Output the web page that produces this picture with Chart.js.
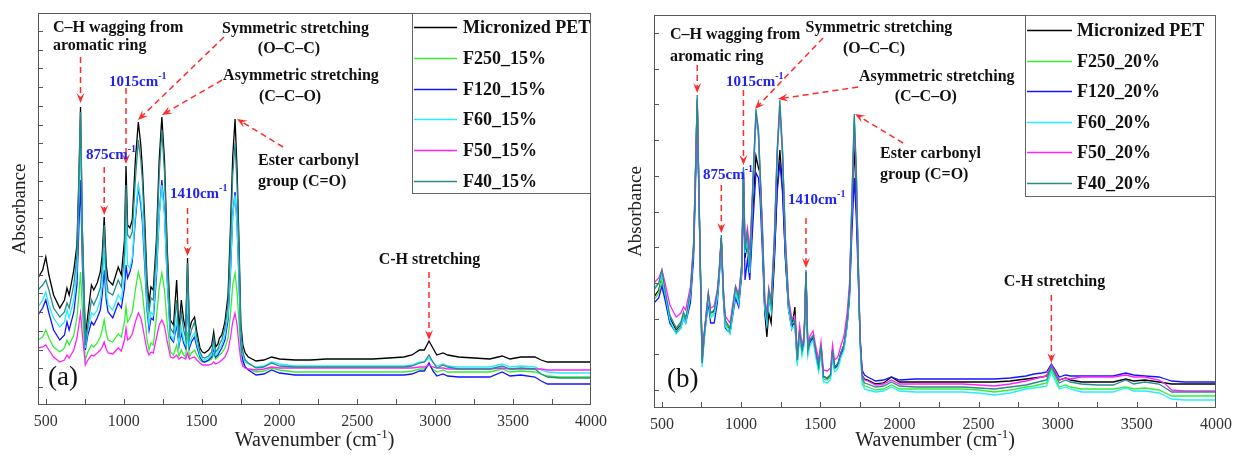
<!DOCTYPE html>
<html>
<head>
<meta charset="utf-8">
<script src="https://cdn.jsdelivr.net/npm/chart.js@4.4.1/dist/chart.umd.min.js"></script>
<style>
  html, body { margin: 0; padding: 0; background: #fff; }
  #wrap { position: relative; width: 1233px; height: 462px; overflow: hidden; }
  .panel { position: absolute; top: 0; }
  #panelA { left: 0; }
  #panelB { left: 616px; }
</style>
</head>
<body>
<div id="wrap">
  <div class="panel" id="panelA"><canvas id="chartA" width="616" height="462"></canvas></div>
  <div class="panel" id="panelB"><canvas id="chartB" width="617" height="462"></canvas></div>
</div>
<script>
const SERIF = '"Liberation Serif", "Times New Roman", Times, serif';

// wavenumber grid (cm-1), shared by every spectrum
const WAVENUMBER = [
  450, 480, 500, 520, 550,   590, 620, 636, 650, 680,
  700, 712, 723, 735, 754,   770, 793, 808, 830, 850,
  862, 875, 888, 900, 930,   965, 985, 1005, 1015, 1025,
  1040, 1055, 1075, 1094, 1110,   1120, 1135, 1150, 1163, 1175,
  1190, 1210, 1228, 1245, 1262,   1280, 1300, 1320, 1340, 1355,
  1370, 1385, 1398, 1410, 1422,   1435, 1455, 1470, 1490, 1505,
  1520, 1545, 1565, 1578, 1590,   1605, 1615, 1630, 1650, 1670,
  1685, 1700, 1715, 1728, 1740,   1752, 1765, 1780, 1800, 1850,
  1900, 1950, 2000, 2100, 2200,   2300, 2400, 2500, 2600, 2700,
  2800, 2850, 2900, 2930, 2960,   2985, 3010, 3050, 3080, 3150,
  3250, 3350, 3430, 3480, 3550,   3640, 3680, 3720, 3800, 3900,
  4000
];

const X_TICKS = [500, 1000, 1500, 2000, 2500, 3000, 3500, 4000];
const SERIES_COLORS = ['#000000', '#33ee33', '#1414ff', '#22eeff', '#ff22ff', '#2a8a8a'];
const NAMES_A = ['Micronized PET', 'F250_15%', 'F120_15%', 'F60_15%', 'F50_15%', 'F40_15%'];
const NAMES_B = ['Micronized PET', 'F250_20%', 'F120_20%', 'F60_20%', 'F50_20%', 'F40_20%'];

// ---- (a) 15% series, absorbance (a.u.)
const pet_a = [
  1.27, 1.35, 1.48, 1.30, 1.10,  0.97, 1.05, 1.17, 1.10, 1.35,
  1.60, 2.25, 2.98, 1.75, 0.68,  0.90, 1.20, 1.15, 1.22, 1.33,
  1.50, 1.88, 1.40, 1.25, 1.20,  1.38, 1.30, 1.65, 2.39, 1.80,
  1.77, 1.85, 2.45, 2.83, 2.60,  2.37, 1.85, 1.25, 1.02, 1.18,
  1.15, 1.65, 2.45, 2.88, 2.45,  1.55, 0.85, 0.80, 1.25, 0.75,
  1.05, 0.85, 0.75, 1.47, 0.75,  0.83, 0.88, 0.73, 0.57, 0.53,
  0.52, 0.55, 0.60, 0.73, 0.58,  0.61, 0.67, 0.70, 0.83, 1.10,
  1.75, 2.48, 2.86, 2.35, 1.65,  0.82, 0.60, 0.52, 0.48, 0.44,
  0.45, 0.48, 0.46, 0.45, 0.45,  0.46, 0.46, 0.46, 0.46, 0.47,
  0.48, 0.50, 0.55, 0.55, 0.64,  0.57, 0.50, 0.52, 0.50, 0.48,
  0.47, 0.46, 0.49, 0.46, 0.48,  0.48, 0.45, 0.43, 0.43, 0.43,
  0.43
];
const f250_15 = [
  0.65, 0.68, 0.75, 0.67, 0.58,  0.53, 0.57, 0.65, 0.60, 0.70,
  0.87, 1.10, 1.33, 0.95, 0.45,  0.53, 0.60, 0.58, 0.62, 0.68,
  0.75, 0.85, 0.72, 0.65, 0.63,  0.71, 0.68, 0.83, 0.98, 0.83,
  0.87, 0.93, 1.15, 1.33, 1.23,  1.13, 0.90, 0.65, 0.55, 0.62,
  0.60, 0.87, 1.17, 1.32, 1.15,  0.80, 0.53, 0.50, 0.60, 0.49,
  0.55, 0.50, 0.48, 0.73, 0.48,  0.52, 0.55, 0.50, 0.45, 0.43,
  0.43, 0.44, 0.46, 0.51, 0.46,  0.48, 0.50, 0.52, 0.57, 0.67,
  0.90, 1.20, 1.32, 1.13, 0.83,  0.53, 0.42, 0.38, 0.36, 0.33,
  0.34, 0.37, 0.35, 0.33, 0.33,  0.33, 0.33, 0.33, 0.33, 0.33,
  0.33, 0.34, 0.36, 0.36, 0.40,  0.36, 0.33, 0.35, 0.33, 0.33,
  0.33, 0.33, 0.36, 0.33, 0.34,  0.33, 0.31, 0.29, 0.28, 0.28,
  0.28
];
const f120_15 = [
  0.90, 0.97, 1.05, 0.92, 0.75,  0.65, 0.70, 0.83, 0.75, 0.93,
  1.20, 1.75, 2.25, 1.40, 0.55,  0.70, 0.83, 0.80, 0.87, 0.95,
  1.10, 1.35, 1.05, 0.93, 0.87,  1.02, 0.97, 1.17, 1.40, 1.27,
  1.33, 1.43, 1.85, 2.18, 2.00,  1.83, 1.40, 0.95, 0.75, 0.87,
  0.85, 1.27, 1.90, 2.25, 1.93,  1.23, 0.67, 0.63, 0.80, 0.59,
  0.72, 0.62, 0.57, 1.05, 0.57,  0.63, 0.68, 0.58, 0.48, 0.44,
  0.43, 0.45, 0.48, 0.57, 0.48,  0.50, 0.53, 0.57, 0.65, 0.85,
  1.30, 1.90, 2.13, 1.80, 1.25,  0.65, 0.45, 0.38, 0.35, 0.30,
  0.31, 0.35, 0.32, 0.30, 0.30,  0.30, 0.30, 0.30, 0.30, 0.30,
  0.30, 0.31, 0.34, 0.34, 0.42,  0.34, 0.29, 0.31, 0.29, 0.28,
  0.28, 0.28, 0.33, 0.29, 0.30,  0.28, 0.24, 0.21, 0.21, 0.21,
  0.21
];
const f60_15 = [
  0.98, 1.05, 1.13, 1.00, 0.87,  0.78, 0.83, 0.95, 0.87, 1.05,
  1.35, 2.05, 2.80, 1.60, 0.57,  0.75, 0.92, 0.90, 0.95, 1.05,
  1.20, 1.55, 1.13, 1.00, 0.95,  1.10, 1.05, 1.30, 1.85, 1.40,
  1.37, 1.47, 1.90, 2.20, 2.05,  1.90, 1.47, 1.00, 0.80, 0.93,
  0.90, 1.33, 1.90, 2.20, 1.90,  1.25, 0.70, 0.65, 0.85, 0.61,
  0.77, 0.65, 0.60, 1.10, 0.60,  0.67, 0.72, 0.61, 0.50, 0.46,
  0.45, 0.47, 0.50, 0.60, 0.50,  0.53, 0.57, 0.60, 0.70, 0.90,
  1.35, 1.90, 2.10, 1.80, 1.30,  0.70, 0.50, 0.43, 0.41, 0.38,
  0.39, 0.43, 0.41, 0.39, 0.39,  0.39, 0.39, 0.39, 0.39, 0.39,
  0.39, 0.40, 0.43, 0.43, 0.47,  0.43, 0.39, 0.41, 0.39, 0.38,
  0.38, 0.38, 0.41, 0.38, 0.39,  0.38, 0.35, 0.33, 0.32, 0.32,
  0.32
];
const f50_15 = [
  0.57, 0.58, 0.60, 0.55, 0.48,  0.43, 0.45, 0.50, 0.47, 0.55,
  0.67, 0.80, 0.92, 0.70, 0.40,  0.45, 0.50, 0.49, 0.52, 0.55,
  0.58, 0.63, 0.56, 0.52, 0.51,  0.57, 0.54, 0.65, 0.77, 0.65,
  0.67, 0.71, 0.83, 0.92, 0.87,  0.80, 0.67, 0.55, 0.50, 0.53,
  0.52, 0.67, 0.80, 0.85, 0.79,  0.63, 0.48, 0.47, 0.50, 0.46,
  0.48, 0.47, 0.46, 0.52, 0.46,  0.47, 0.48, 0.45, 0.42, 0.40,
  0.40, 0.40, 0.41, 0.43, 0.41,  0.42, 0.43, 0.45, 0.48, 0.55,
  0.67, 0.83, 0.92, 0.80, 0.60,  0.45, 0.39, 0.37, 0.36, 0.35,
  0.36, 0.38, 0.37, 0.37, 0.37,  0.37, 0.37, 0.37, 0.37, 0.37,
  0.37, 0.37, 0.38, 0.38, 0.40,  0.38, 0.37, 0.37, 0.36, 0.36,
  0.36, 0.36, 0.37, 0.36, 0.36,  0.36, 0.36, 0.35, 0.35, 0.35,
  0.35
];
const f40_15 = [
  1.15, 1.20, 1.25, 1.15, 0.97,  0.88, 0.93, 1.02, 0.97, 1.20,
  1.50, 2.15, 2.93, 1.65, 0.60,  0.80, 1.05, 1.00, 1.08, 1.17,
  1.38, 1.80, 1.27, 1.13, 1.10,  1.25, 1.18, 1.50, 2.20, 1.70,
  1.67, 1.73, 2.25, 2.65, 2.45,  2.25, 1.73, 1.15, 0.93, 1.07,
  1.05, 1.55, 2.30, 2.75, 2.33,  1.45, 0.77, 0.72, 1.05, 0.67,
  0.93, 0.75, 0.67, 1.42, 0.67,  0.75, 0.83, 0.67, 0.53, 0.48,
  0.47, 0.49, 0.53, 0.67, 0.53,  0.56, 0.61, 0.65, 0.77, 1.02,
  1.60, 2.30, 2.62, 2.20, 1.55,  0.75, 0.53, 0.45, 0.42, 0.37,
  0.38, 0.42, 0.39, 0.38, 0.38,  0.38, 0.38, 0.38, 0.38, 0.38,
  0.38, 0.39, 0.42, 0.43, 0.50,  0.43, 0.37, 0.40, 0.38, 0.36,
  0.36, 0.36, 0.39, 0.36, 0.37,  0.36, 0.31, 0.28, 0.27, 0.27,
  0.27
];

// ---- (b) 20% series, absorbance (a.u.)
const pet_b = [
  1.11, 1.18, 1.30, 1.13, 0.90,  0.78, 0.83, 0.92, 0.88, 1.10,
  1.58, 2.33, 3.08, 2.05, 0.52,  0.78, 1.12, 0.95, 0.97, 1.12,
  1.35, 1.70, 1.15, 0.85, 0.78,  1.15, 1.05, 1.40, 2.35, 1.50,
  1.65, 1.35, 2.00, 2.52, 2.40,  2.35, 1.70, 0.95, 0.71, 0.95,
  0.85, 1.45, 2.20, 2.58, 2.20,  1.50, 0.98, 0.80, 1.01, 0.48,
  0.78, 0.58, 0.68, 1.36, 0.58,  0.68, 0.72, 0.58, 0.41, 0.63,
  0.31, 0.30, 0.33, 0.58, 0.41,  0.43, 0.46, 0.55, 0.63, 0.85,
  1.15, 1.90, 2.63, 2.10, 1.40,  0.68, 0.33, 0.29, 0.28, 0.24,
  0.25, 0.31, 0.26, 0.26, 0.26,  0.26, 0.26, 0.26, 0.26, 0.27,
  0.29, 0.30, 0.31, 0.32, 0.42,  0.35, 0.28, 0.30, 0.28, 0.26,
  0.26, 0.26, 0.29, 0.27, 0.28,  0.26, 0.25, 0.24, 0.24, 0.24,
  0.24
];
const f250_20 = [
  1.08, 1.15, 1.30, 1.10, 0.85,  0.76, 0.82, 0.92, 0.86, 1.10,
  1.58, 2.33, 3.08, 2.03, 0.44,  0.75, 1.10, 0.92, 0.95, 1.12,
  1.33, 1.68, 1.14, 0.85, 0.77,  1.17, 1.06, 1.40, 2.36, 1.55,
  1.70, 1.38, 2.22, 2.92, 2.72,  2.33, 1.73, 1.02, 0.88, 1.14,
  1.00, 1.65, 2.52, 3.03, 2.52,  1.63, 1.02, 0.83, 0.86, 0.46,
  0.76, 0.56, 0.66, 1.35, 0.56,  0.66, 0.71, 0.56, 0.39, 0.61,
  0.29, 0.28, 0.31, 0.56, 0.39,  0.41, 0.44, 0.53, 0.61, 0.84,
  1.16, 2.05, 2.90, 2.35, 1.45,  0.66, 0.27, 0.22, 0.21, 0.18,
  0.19, 0.23, 0.19, 0.19, 0.19,  0.19, 0.19, 0.18, 0.16, 0.18,
  0.21, 0.22, 0.24, 0.25, 0.39,  0.30, 0.21, 0.23, 0.21, 0.19,
  0.19, 0.19, 0.21, 0.19, 0.20,  0.18, 0.15, 0.12, 0.12, 0.12,
  0.12
];
const f120_20 = [
  1.05, 1.10, 1.22, 1.08, 0.85,  0.75, 0.80, 0.90, 0.85, 1.05,
  1.50, 2.20, 3.05, 2.00, 0.48,  0.75, 1.05, 0.85, 0.85, 1.05,
  1.30, 1.68, 1.10, 0.80, 0.75,  1.10, 1.01, 1.35, 2.30, 1.28,
  1.48, 1.28, 1.85, 2.35, 2.30,  2.10, 1.55, 0.95, 0.85, 1.10,
  0.98, 1.50, 2.15, 2.46, 2.15,  1.50, 1.00, 0.82, 0.85, 0.47,
  0.75, 0.56, 0.66, 1.33, 0.56,  0.66, 0.70, 0.56, 0.40, 0.60,
  0.31, 0.30, 0.33, 0.56, 0.40,  0.42, 0.45, 0.53, 0.60, 0.82,
  1.10, 1.75, 2.30, 1.90, 1.30,  0.70, 0.38, 0.33, 0.31, 0.27,
  0.28, 0.31, 0.28, 0.29, 0.29,  0.29, 0.29, 0.29, 0.29, 0.30,
  0.32, 0.34, 0.35, 0.36, 0.44,  0.38, 0.31, 0.33, 0.32, 0.32,
  0.32, 0.32, 0.35, 0.33, 0.32,  0.31, 0.29, 0.27, 0.26, 0.26,
  0.26
];
const f60_20 = [
  1.21, 1.25, 1.33, 1.15, 0.88,  0.74, 0.80, 0.90, 0.85, 1.12,
  1.60, 2.35, 3.10, 2.05, 0.41,  0.73, 1.10, 0.90, 0.93, 1.10,
  1.32, 1.66, 1.12, 0.82, 0.74,  1.15, 1.04, 1.40, 2.38, 1.55,
  1.68, 1.35, 2.20, 2.90, 2.70,  2.30, 1.70, 0.99, 0.84, 1.12,
  0.97, 1.62, 2.50, 3.00, 2.50,  1.60, 0.98, 0.79, 0.82, 0.42,
  0.72, 0.52, 0.62, 1.33, 0.52,  0.62, 0.68, 0.52, 0.36, 0.58,
  0.26, 0.25, 0.28, 0.52, 0.36,  0.38, 0.41, 0.50, 0.58, 0.82,
  1.14, 2.03, 2.88, 2.33, 1.42,  0.62, 0.24, 0.19, 0.18, 0.16,
  0.17, 0.21, 0.17, 0.16, 0.16,  0.16, 0.16, 0.15, 0.13, 0.15,
  0.19, 0.20, 0.21, 0.22, 0.36,  0.27, 0.19, 0.21, 0.19, 0.16,
  0.16, 0.16, 0.20, 0.17, 0.17,  0.15, 0.12, 0.09, 0.08, 0.08,
  0.08
];
const f50_20 = [
  1.25, 1.30, 1.38, 1.25, 1.03,  0.91, 0.95, 1.01, 0.98, 1.21,
  1.65, 2.35, 3.08, 2.08, 0.48,  0.80, 1.15, 1.00, 1.02, 1.18,
  1.38, 1.70, 1.20, 0.92, 0.85,  1.22, 1.14, 1.45, 2.38, 1.65,
  1.80, 1.58, 2.25, 2.95, 2.75,  2.35, 1.80, 1.10, 0.95, 1.20,
  1.08, 1.70, 2.55, 3.00, 2.55,  1.70, 1.10, 0.90, 0.92, 0.55,
  0.82, 0.63, 0.72, 1.36, 0.63,  0.72, 0.77, 0.63, 0.48, 0.66,
  0.38, 0.37, 0.40, 0.63, 0.48,  0.50, 0.53, 0.62, 0.72, 0.95,
  1.25, 2.05, 2.85, 2.30, 1.50,  0.72, 0.33, 0.28, 0.27, 0.23,
  0.24, 0.28, 0.24, 0.24, 0.24,  0.24, 0.24, 0.23, 0.22, 0.24,
  0.27, 0.29, 0.31, 0.32, 0.43,  0.36, 0.28, 0.30, 0.29, 0.31,
  0.31, 0.31, 0.33, 0.31, 0.31,  0.28, 0.24, 0.18, 0.17, 0.17,
  0.17
];
const f40_20 = [
  1.18, 1.25, 1.38, 1.18, 0.93,  0.80, 0.86, 0.96, 0.90, 1.16,
  1.63, 2.38, 3.13, 2.08, 0.45,  0.78, 1.15, 0.95, 0.98, 1.16,
  1.38, 1.73, 1.18, 0.88, 0.80,  1.21, 1.10, 1.45, 2.41, 1.58,
  1.75, 1.41, 2.28, 2.99, 2.78,  2.38, 1.78, 1.05, 0.90, 1.18,
  1.03, 1.68, 2.58, 3.08, 2.58,  1.68, 1.05, 0.85, 0.88, 0.48,
  0.78, 0.58, 0.68, 1.38, 0.58,  0.68, 0.73, 0.58, 0.41, 0.63,
  0.31, 0.30, 0.33, 0.58, 0.41,  0.43, 0.46, 0.55, 0.63, 0.86,
  1.18, 2.08, 2.94, 2.38, 1.48,  0.68, 0.30, 0.25, 0.24, 0.21,
  0.22, 0.26, 0.22, 0.21, 0.21,  0.21, 0.21, 0.20, 0.19, 0.21,
  0.23, 0.25, 0.27, 0.28, 0.42,  0.33, 0.25, 0.28, 0.26, 0.24,
  0.23, 0.23, 0.28, 0.24, 0.26,  0.24, 0.20, 0.16, 0.16, 0.16,
  0.16
];

// band assignments: text anchored at (wavenumber, absorbance)
const NOTES_A = [
  { text: 'C–H wagging from', wn: 546, abs: 3.77, align: 'left' },
  { text: 'aromatic ring', wn: 546, abs: 3.59, align: 'left' },
  { text: 'Symmetric stretching', wn: 2103, abs: 3.76, align: 'center' },
  { text: '(O–C–C)', wn: 2061, abs: 3.56, align: 'center' },
  { text: 'Asymmetric stretching', wn: 2138, abs: 3.29, align: 'center' },
  { text: '(C–C–O)', wn: 2068, abs: 3.08, align: 'center' },
  { text: 'Ester carbonyl', wn: 1862, abs: 2.44, align: 'left' },
  { text: 'group (C=O)', wn: 1862, abs: 2.23, align: 'left' },
  { text: 'C-H stretching', wn: 2963, abs: 1.45, align: 'center' }
];
const BANDS_A = [
  { text: '1015cm', wn: 906, abs: 3.23 },
  { text: '875cm', wn: 758, abs: 2.50 },
  { text: '1410cm', wn: 1297, abs: 2.11 }
];
const ARROWS_A = [
  { from: [723, 3.48], to: [723, 3.02] },
  { from: [1644, 3.68], to: [1092, 2.85] },
  { from: [1015, 3.17], to: [1015, 2.41] },
  { from: [1631, 3.25], to: [1246, 2.90] },
  { from: [875, 2.38], to: [875, 1.90] },
  { from: [2023, 2.58], to: [1728, 2.86] },
  { from: [1410, 1.97], to: [1410, 1.49] },
  { from: [2960, 1.33], to: [2960, 0.65] }
];

const NOTES_B = [
  { text: 'C–H wagging from', wn: 551, abs: 3.73, align: 'left' },
  { text: 'aromatic ring', wn: 551, abs: 3.51, align: 'left' },
  { text: 'Symmetric stretching', wn: 1871, abs: 3.80, align: 'center' },
  { text: '(O–C–C)', wn: 1840, abs: 3.59, align: 'center' },
  { text: 'Asymmetric stretching', wn: 2236, abs: 3.31, align: 'center' },
  { text: '(C–C–O)', wn: 2167, abs: 3.11, align: 'center' },
  { text: 'Ester carbonyl', wn: 1878, abs: 2.54, align: 'left' },
  { text: 'group (C=O)', wn: 1878, abs: 2.33, align: 'left' },
  { text: 'C-H stretching', wn: 2980, abs: 1.26, align: 'center' }
];
const BANDS_B = [
  { text: '1015cm', wn: 905, abs: 3.26 },
  { text: '875cm', wn: 760, abs: 2.33 },
  { text: '1410cm', wn: 1296, abs: 2.08 }
];
const ARROWS_B = [
  { from: [723, 3.43], to: [723, 3.15] },
  { from: [1518, 3.70], to: [1088, 2.99] },
  { from: [1015, 3.18], to: [1015, 2.43] },
  { from: [1739, 3.21], to: [1233, 3.09] },
  { from: [875, 2.23], to: [875, 1.75] },
  { from: [2023, 2.65], to: [1720, 2.94] },
  { from: [1410, 1.90], to: [1410, 1.40] },
  { from: [2960, 1.13], to: [2960, 0.45] }
];

function drawArrow(ctx, x0, y0, x1, y1) {
  const ang = Math.atan2(y1 - y0, x1 - x0);
  const c = Math.cos(ang), s = Math.sin(ang);
  const len = 10, half = 4;
  ctx.setLineDash([6, 4]);
  ctx.beginPath();
  ctx.moveTo(x0, y0);
  ctx.lineTo(x1 - c * len * 0.6, y1 - s * len * 0.6);
  ctx.stroke();
  ctx.setLineDash([]);
  ctx.beginPath();
  ctx.moveTo(x1, y1);
  ctx.lineTo(x1 - c * len + s * half, y1 - s * len - c * half);
  ctx.lineTo(x1 - c * len * 0.6, y1 - s * len * 0.6);
  ctx.lineTo(x1 - c * len - s * half, y1 - s * len + c * half);
  ctx.closePath();
  ctx.fill();
}

// frame, inward ticks, notes, arrows, legend and x title
const decorPlugin = {
  id: 'ftirDecor',
  afterDraw(chart, args, opts) {
    const { ctx, chartArea: area, scales: { x, y } } = chart;
    ctx.save();

    // box around the plot
    ctx.strokeStyle = '#555';
    ctx.lineWidth = 1;
    ctx.strokeRect(area.left + 0.5, area.top + 0.5, area.width - 1, area.height - 1);

    // ticks pointing into the plot
    ctx.beginPath();
    for (let v = opts.yTickStart; v < y.max; v += opts.yTickStep) {
      const py = Math.round(y.getPixelForValue(v)) + 0.5;
      ctx.moveTo(area.left, py);
      ctx.lineTo(area.left + 5, py);
    }
    for (let v = 500; v < 4000; v += 250) {
      const px = Math.round(x.getPixelForValue(v)) + 0.5;
      ctx.moveTo(px, area.bottom);
      ctx.lineTo(px, area.bottom - 6);
    }
    ctx.stroke();

    // arrows
    ctx.strokeStyle = '#ff2a2a';
    ctx.fillStyle = '#ff2a2a';
    ctx.lineWidth = 1.5;
    opts.arrows.forEach(a => {
      drawArrow(ctx,
        x.getPixelForValue(a.from[0]), y.getPixelForValue(a.from[1]),
        x.getPixelForValue(a.to[0]), y.getPixelForValue(a.to[1]));
    });

    // band assignments
    ctx.textBaseline = 'middle';
    ctx.fillStyle = '#111';
    ctx.font = 'bold 16px ' + SERIF;
    opts.notes.forEach(n => {
      ctx.textAlign = n.align;
      ctx.fillText(n.text, x.getPixelForValue(n.wn), y.getPixelForValue(n.abs));
    });

    // blue wavenumber labels with cm-1 superscript
    ctx.textAlign = 'left';
    ctx.fillStyle = '#2222ee';
    opts.bands.forEach(b => {
      const px = x.getPixelForValue(b.wn), py = y.getPixelForValue(b.abs);
      ctx.font = 'bold 15px ' + SERIF;
      ctx.fillText(b.text, px, py);
      const w = ctx.measureText(b.text).width;
      ctx.font = 'bold 10px ' + SERIF;
      ctx.fillText('-1', px + w, py - 6);
    });

    // panel letter
    ctx.fillStyle = '#111';
    ctx.font = '27px ' + SERIF;
    ctx.fillText(opts.letter.text, x.getPixelForValue(opts.letter.wn), y.getPixelForValue(opts.letter.abs));

    // legend box inside the top-right corner
    const lg = opts.legend;
    const lLeft = area.right - lg.width;
    ctx.strokeStyle = '#666';
    ctx.lineWidth = 1;
    ctx.strokeRect(lLeft + 0.5, area.top + 0.5, lg.width - 1, lg.height);
    ctx.font = 'bold 18px ' + SERIF;
    lg.names.forEach((name, i) => {
      const ry = Math.round(area.top + lg.firstRow + i * lg.rowGap) + 0.5;
      ctx.strokeStyle = SERIES_COLORS[i];
      ctx.lineWidth = 1.5;
      ctx.beginPath();
      ctx.moveTo(lLeft + 2, ry);
      ctx.lineTo(lLeft + 2 + lg.lineLen, ry);
      ctx.stroke();
      ctx.fillStyle = '#111';
      ctx.fillText(name, lLeft + lg.textOffset, ry + 1);
    });

    // x axis title with superscript
    ctx.fillStyle = '#222';
    ctx.textBaseline = 'alphabetic';
    const base = chart.height - 16;
    const main = 'Wavenumber (cm', tail = ')';
    ctx.font = '20px ' + SERIF;
    const wMain = ctx.measureText(main).width, wTail = ctx.measureText(tail).width;
    ctx.font = '13px ' + SERIF;
    const wSup = ctx.measureText('-1').width;
    const tx = (area.left + area.right) / 2 - (wMain + wSup + wTail) / 2;
    ctx.font = '20px ' + SERIF;
    ctx.fillText(main, tx, base);
    ctx.font = '13px ' + SERIF;
    ctx.fillText('-1', tx + wMain, base - 8);
    ctx.font = '20px ' + SERIF;
    ctx.fillText(tail, tx + wMain + wSup, base);

    ctx.restore();
  }
};

function buildDatasets(seriesList, names) {
  return seriesList.map((vals, i) => ({
    label: names[i],
    data: WAVENUMBER.map((wn, k) => ({ x: wn, y: vals[k] })),
    borderColor: SERIES_COLORS[i],
    backgroundColor: SERIES_COLORS[i],
    borderWidth: 1.3,
    pointRadius: 0,
    tension: 0,
    // last series drawn on top
    order: seriesList.length - 1 - i
  }));
}

function makeChart(canvasId, seriesList, cfg) {
  return new Chart(document.getElementById(canvasId), {
    type: 'line',
    data: { datasets: buildDatasets(seriesList, cfg.names) },
    plugins: [decorPlugin],
    options: {
      responsive: false,
      animation: false,
      events: [],
      layout: { padding: { top: cfg.padTop, right: cfg.padRight, left: 0, bottom: 0 } },
      plugins: {
        legend: { display: false },
        tooltip: { enabled: false },
        ftirDecor: {
          yTickStart: 0.18,
          yTickStep: cfg.yTickStep,
          notes: cfg.notes,
          bands: cfg.bands,
          arrows: cfg.arrows,
          letter: cfg.letter,
          legend: cfg.legend
        }
      },
      scales: {
        x: {
          type: 'linear',
          min: 450,
          max: 4000,
          grid: { display: false, drawTicks: false },
          border: { display: false },
          afterBuildTicks: s => { s.ticks = X_TICKS.map(v => ({ value: v })); },
          afterFit: s => {
            s.height = cfg.xAxisHeight;
            // the last label may hang past the frame, as in the print layout
            s.paddingLeft = 0;
            s.paddingRight = 0;
          },
          ticks: {
            font: { family: SERIF, size: 16 },
            color: '#333',
            padding: 7,
            maxRotation: 0,
            autoSkip: false,
            callback: v => String(v)
          }
        },
        y: {
          type: 'linear',
          min: 0,
          max: cfg.yMax,
          grid: { display: false, drawTicks: false },
          border: { display: false },
          ticks: { display: false },
          afterFit: s => { s.width = 38; },
          title: {
            display: true,
            text: 'Absorbance',
            font: { family: SERIF, size: 19 },
            color: '#222',
            padding: { top: 9, bottom: 0 }
          }
        }
      }
    }
  });
}

makeChart('chartA', [pet_a, f250_15, f120_15, f60_15, f50_15, f40_15], {
  names: NAMES_A,
  padTop: 13, padRight: 25, xAxisHeight: 57,
  yMax: 3.92, yTickStep: 0.1875,
  notes: NOTES_A, bands: BANDS_A, arrows: ARROWS_A,
  letter: { text: '(a)', wn: 514, abs: 0.27 },
  legend: { names: NAMES_A, width: 179, height: 180, firstRow: 14, rowGap: 30.8, lineLen: 43, textOffset: 51 }
});

makeChart('chartB', [pet_b, f250_20, f120_20, f60_20, f50_20, f40_20], {
  names: NAMES_B,
  padTop: 15, padRight: 17, xAxisHeight: 54,
  yMax: 3.93, yTickStep: 0.357,
  notes: NOTES_B, bands: BANDS_B, arrows: ARROWS_B,
  letter: { text: '(b)', wn: 532, abs: 0.28 },
  legend: { names: NAMES_B, width: 191, height: 181, firstRow: 15, rowGap: 30.6, lineLen: 45, textOffset: 52 }
});
</script>
</body>
</html>
